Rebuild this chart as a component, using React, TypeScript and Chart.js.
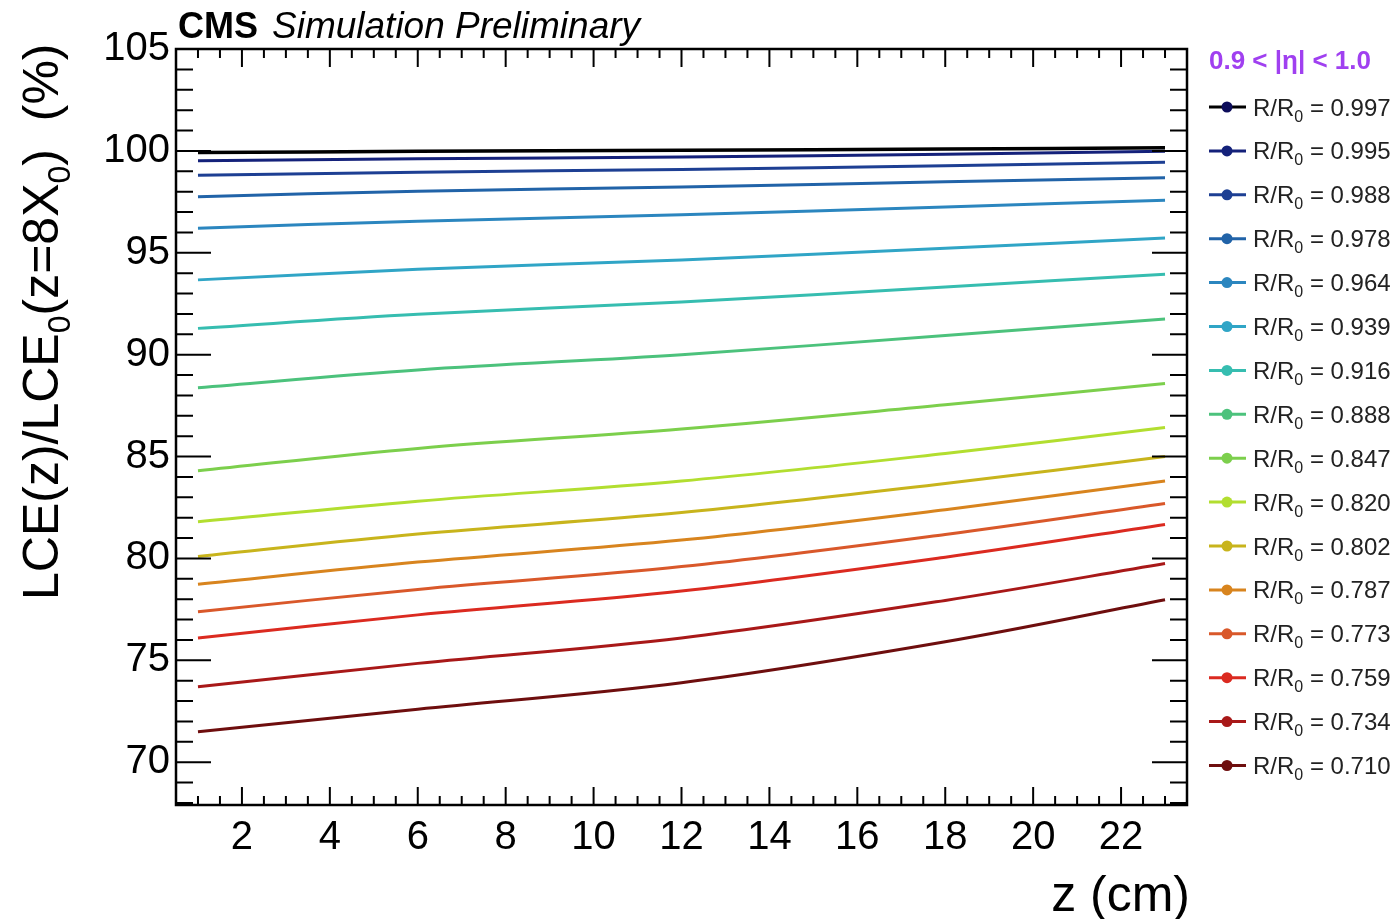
import React, { useEffect, useRef } from "react";
import { Chart, registerables } from "chart.js";

Chart.register(...registerables);

// ---- data ----
const zValues = [1, 6, 12, 18, 23];
const ratioLabels = ["0.997", "0.995", "0.988", "0.978", "0.964", "0.939", "0.916", "0.888", "0.847", "0.820", "0.802", "0.787", "0.773", "0.759", "0.734", "0.710"];
const lce0997 = [99.92, 99.98, 100.03, 100.09, 100.15];
const lce0995 = [99.52, 99.61, 99.7, 99.84, 99.98];
const lce0988 = [98.8, 98.95, 99.09, 99.27, 99.44];
const lce0978 = [97.75, 98.02, 98.23, 98.48, 98.68];
const lce0964 = [96.2, 96.55, 96.86, 97.25, 97.58];
const lce0939 = [93.67, 94.19, 94.65, 95.22, 95.72];
const lce0916 = [91.29, 91.98, 92.58, 93.32, 93.95];
const lce0888 = [88.38, 89.25, 90.0, 90.94, 91.75];
const lce0847 = [84.3, 85.4, 86.35, 87.54, 88.58];
const lce0820 = [81.8, 82.81, 83.8, 85.15, 86.42];
const lce0802 = [80.1, 81.2, 82.25, 83.68, 85.0];
const lce0787 = [78.73, 79.82, 80.9, 82.39, 83.8];
const lce0773 = [77.38, 78.48, 79.6, 81.18, 82.7];
const lce0759 = [76.1, 77.23, 78.4, 80.06, 81.67];
const lce0734 = [73.7, 74.85, 76.1, 77.94, 79.75];
const lce0710 = [71.5, 72.6, 73.9, 75.91, 77.97];
const seriesValues = [lce0997, lce0995, lce0988, lce0978, lce0964, lce0939, lce0916, lce0888, lce0847, lce0820, lce0802, lce0787, lce0773, lce0759, lce0734, lce0710];
const lineColors = ["#000000", "#14217a", "#1d3f93", "#2163a8", "#2b86bf", "#30a5c6", "#36bdb0", "#4cc27c", "#7ccf4c", "#b2de30", "#c8b41c", "#d8841e", "#d9582a", "#db2a20", "#a81818", "#6e0e0e"];
const markerColors = ["#0c0c5a", "#14217a", "#1d3f93", "#2163a8", "#2b86bf", "#30a5c6", "#36bdb0", "#4cc27c", "#7ccf4c", "#b2de30", "#c8b41c", "#d8841e", "#d9582a", "#db2a20", "#a81818", "#6e0e0e"];
const xTickValues = [2, 4, 6, 8, 10, 12, 14, 16, 18, 20, 22];
const yTickValues = [70, 75, 80, 85, 90, 95, 100, 105];
const etaLabel = "0.9 < |\u03B7| < 1.0";

const FONT = "'Liberation Sans', Arial, Helvetica, sans-serif";
const W = 1398;
const H = 919;

const framePlugin = {
  id: "frameTicks",
  afterDatasetsDraw(chart: any) {
    const { ctx, chartArea, scales } = chart;
    const { left, right, top, bottom } = chartArea;
    const x = scales.x;
    const y = scales.y;
    ctx.save();
    ctx.strokeStyle = "#000";
    ctx.lineWidth = 2;
    ctx.beginPath();
    for (let v = 1; v <= 23; v += 0.5) {
      const px = x.getPixelForValue(v);
      const len = v % 2 === 0 ? 18 : 9;
      ctx.moveTo(px, bottom);
      ctx.lineTo(px, bottom - len);
      ctx.moveTo(px, top);
      ctx.lineTo(px, top + len);
    }
    for (let v = 68; v <= 105; v += 1) {
      const py = y.getPixelForValue(v);
      const len = v % 5 === 0 ? 35 : 17;
      ctx.moveTo(left, py);
      ctx.lineTo(left + len, py);
      ctx.moveTo(right, py);
      ctx.lineTo(right - len, py);
    }
    ctx.stroke();
    ctx.lineWidth = 2.5;
    ctx.strokeRect(left, top, right - left, bottom - top);
    ctx.restore();
  },
  afterDraw(chart: any) {
    const { ctx } = chart;
    ctx.save();
    ctx.fillStyle = "#000";
    ctx.textBaseline = "alphabetic";
    // header
    ctx.font = `bold 36px ${FONT}`;
    ctx.textAlign = "left";
    ctx.fillText("CMS", 178, 38);
    ctx.font = `italic 37px ${FONT}`;
    ctx.fillText("Simulation Preliminary", 272, 38);

    // x title
    ctx.font = `50px ${FONT}`;
    ctx.textAlign = "right";
    ctx.fillText("z (cm)", 1190, 911);

    // y title (rotated)
    ctx.save();
    ctx.translate(58, 600);
    ctx.rotate(-Math.PI / 2);
    ctx.textAlign = "left";
    const big = `50px ${FONT}`;
    const small = `32px ${FONT}`;
    const parts: [string, boolean][] = [["LCE(z)/LCE", false], ["0", true], ["(z=8X", false], ["0", true], [")  (%)", false]];
    let cx = 0;
    for (const [t, sub] of parts) {
      ctx.font = sub ? small : big;
      ctx.fillText(t, cx, sub ? 12 : 0);
      cx += ctx.measureText(t).width;
    }
    ctx.restore();

    // legend
    ctx.textAlign = "left";
    ctx.font = `bold 26px ${FONT}`;
    ctx.fillStyle = "#a040f0";
    ctx.textBaseline = "middle";
    ctx.fillText(etaLabel, 1209, 62);
    for (let i = 0; i < ratioLabels.length; i++) {
      const cy = 107 + i * 43.9;
      ctx.strokeStyle = lineColors[i];
      ctx.lineWidth = 3;
      ctx.beginPath();
      ctx.moveTo(1209, cy);
      ctx.lineTo(1246, cy);
      ctx.stroke();
      ctx.fillStyle = markerColors[i];
      ctx.beginPath();
      ctx.arc(1227, cy, 5.5, 0, Math.PI * 2);
      ctx.fill();
      ctx.fillStyle = "#222";
      ctx.textBaseline = "alphabetic";
      const base = cy + 8.5;
      let tx = 1253;
      ctx.font = `24px ${FONT}`;
      ctx.fillText("R/R", tx, base);
      tx += ctx.measureText("R/R").width;
      ctx.font = `16px ${FONT}`;
      ctx.fillText("0", tx, base + 6);
      tx += ctx.measureText("0").width;
      ctx.font = `24px ${FONT}`;
      ctx.fillText(" = " + ratioLabels[i], tx, base);
      ctx.textBaseline = "middle";
    }
    ctx.restore();
  },
};

export default function App() {
  const canvasRef = useRef<HTMLCanvasElement | null>(null);

  useEffect(() => {
    const canvas = canvasRef.current;
    if (!canvas) return;
    const datasets = seriesValues.map((vals, i) => ({
      label: "R/R0 = " + ratioLabels[i],
      data: zValues.map((z, j) => ({ x: z, y: vals[j] })),
      borderColor: lineColors[i],
      backgroundColor: lineColors[i],
      borderWidth: i === 0 ? 3.5 : 3,
      pointRadius: 0,
      tension: 0.35,
      fill: false,
    }));
    const chart = new Chart(canvas, {
      type: "line",
      data: { datasets },
      options: {
        responsive: false,
        animation: false,
        devicePixelRatio: 1,
        layout: { padding: { left: 0, right: 211, top: 49, bottom: 0 } },
        plugins: {
          legend: { display: false },
          tooltip: { enabled: false },
          title: { display: false },
        },
        scales: {
          x: {
            type: "linear",
            min: 0.5,
            max: 23.5,
            grid: { display: false },
            border: { display: false },
            ticks: {
              color: "#000",
              font: { family: FONT, size: 40 },
              padding: 1,
              maxRotation: 0,
              autoSkip: false,
            },
            afterBuildTicks: (s: any) => {
              s.ticks = xTickValues.map((v) => ({ value: v }));
            },
            afterFit: (s: any) => {
              s.height = 114;
            },
          },
          y: {
            type: "linear",
            min: 67.9,
            max: 105,
            grid: { display: false },
            border: { display: false },
            ticks: {
              color: "#000",
              font: { family: FONT, size: 40 },
              padding: -2,
              autoSkip: false,
            },
            afterBuildTicks: (s: any) => {
              s.ticks = yTickValues.map((v) => ({ value: v }));
            },
            afterFit: (s: any) => {
              s.width = 176;
            },
          },
        },
      },
      plugins: [framePlugin],
    });
    return () => chart.destroy();
  }, []);

  return (
    <div style={{ position: "fixed", left: 0, top: 0, width: W, height: H, background: "#fff" }}>
      <canvas ref={canvasRef} width={W} height={H} style={{ display: "block", width: W, height: H }} />
    </div>
  );
}
